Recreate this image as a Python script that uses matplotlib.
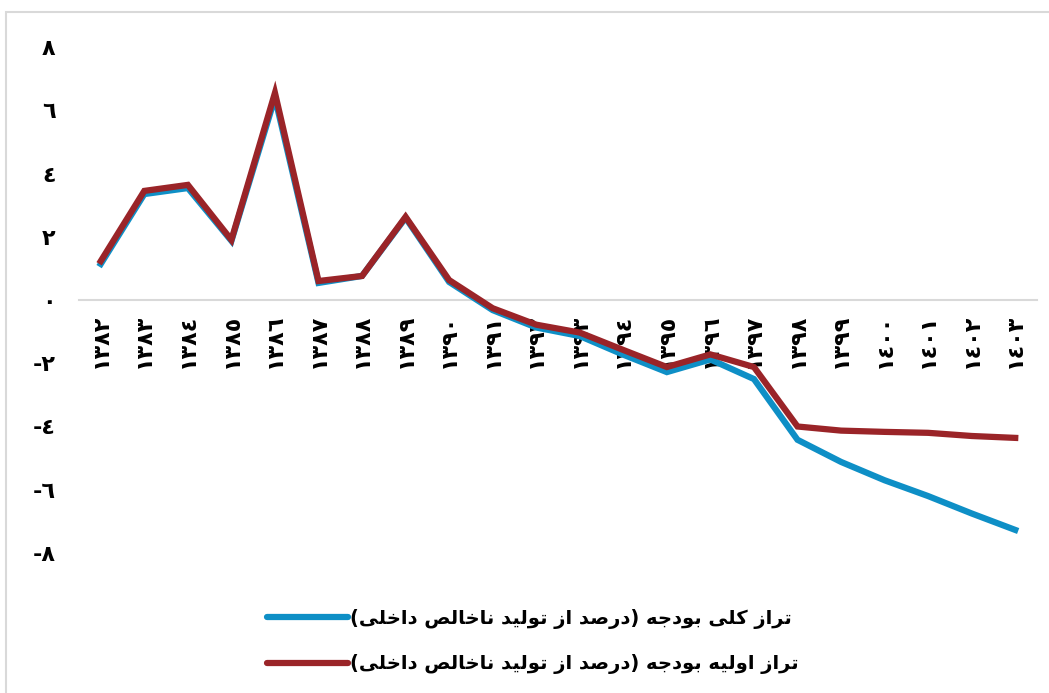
import matplotlib
matplotlib.use("Agg")
import matplotlib.pyplot as plt
from matplotlib.patches import Rectangle

plt.rcParams['font.family'] = ['DejaVu Sans']

# years 1382..1403 and the two budget balance series (% of GDP)
years = list(range(1382, 1404))
overall = [1.14, 3.35, 3.54, 1.87, 6.4, 0.54, 0.76, 2.6, 0.57, -0.32, -0.87, -1.14,
           -1.73, -2.28, -1.88, -2.5, -4.42, -5.12, -5.7, -6.2, -6.75, -7.27]
primary = [1.23, 3.45, 3.64, 1.9, 6.55, 0.6, 0.76, 2.63, 0.63, -0.26, -0.78, -1.03,
           -1.58, -2.12, -1.72, -2.12, -4.0, -4.13, -4.17, -4.2, -4.3, -4.36]
yticks = [8, 6, 4, 2, 0, -2, -4, -6, -8]
labels = ['تراز کلی بودجه (درصد از تولید ناخالص داخلی)',
          'تراز اولیه بودجه (درصد از تولید ناخالص داخلی)']
colors = ['#0E8FC6', '#9A2428']

# arabic presentation forms: isolated, final, initial, medial
forms = {
    'ا': (0xFE8D, 0xFE8E, None, None),
    'ب': (0xFE8F, 0xFE90, 0xFE91, 0xFE92),
    'ت': (0xFE95, 0xFE96, 0xFE97, 0xFE98),
    'ج': (0xFE9D, 0xFE9E, 0xFE9F, 0xFEA0),
    'خ': (0xFEA5, 0xFEA6, 0xFEA7, 0xFEA8),
    'د': (0xFEA9, 0xFEAA, None, None),
    'ر': (0xFEAD, 0xFEAE, None, None),
    'ز': (0xFEAF, 0xFEB0, None, None),
    'ص': (0xFEB9, 0xFEBA, 0xFEBB, 0xFEBC),
    'ک': (0xFED9, 0xFEDA, 0xFEDB, 0xFEDC),
    'ل': (0xFEDD, 0xFEDE, 0xFEDF, 0xFEE0),
    'ن': (0xFEE5, 0xFEE6, 0xFEE7, 0xFEE8),
    'ه': (0xFEE9, 0xFEEA, 0xFEEB, 0xFEEC),
    'و': (0xFEED, 0xFEEE, None, None),
    'ی': (0xFEEF, 0xFEF0, 0xFEF3, 0xFEF4),
}


def shape(text):
    out = []
    for i, ch in enumerate(text):
        if ch not in forms:
            out.append(ch)
            continue
        f = forms[ch]
        prev = text[i - 1] if i > 0 else ''
        nxt = text[i + 1] if i + 1 < len(text) else ''
        jp = prev in forms and forms[prev][2] is not None
        jn = f[2] is not None and nxt in forms
        if jp and jn:
            c = f[3]
        elif jp:
            c = f[1]
        elif jn:
            c = f[2]
        else:
            c = f[0]
        out.append(chr(c))
    # visual order, right to left, with mirrored brackets
    vis = ''.join(out)[::-1]
    return vis.translate(str.maketrans('()', ')('))


def ar_digits(s):
    return str(s).translate(str.maketrans('0123456789', '٠١٢٣٤٥٦٧٨٩'))


fig = plt.figure(figsize=(10.49, 6.93), dpi=100)
ax = fig.add_axes([79 / 1049, 140 / 693, 958 / 1049, 506 / 693])

x = list(range(len(years)))
ax.plot(x, overall, color=colors[0], lw=4.5, solid_joinstyle='miter', label=shape(labels[0]))
ax.plot(x, primary, color=colors[1], lw=4.5, solid_joinstyle='miter', label=shape(labels[1]))

ax.set_xlim(-0.5, len(years) - 0.5)
ax.set_ylim(-8, 8)
for s in ['top', 'right', 'left']:
    ax.spines[s].set_visible(False)
ax.spines['bottom'].set_position(('data', 0))
ax.spines['bottom'].set_color('#d9d9d9')
ax.spines['bottom'].set_linewidth(1.5)
ax.spines['bottom'].set_zorder(0)

ax.set_xticks(x)
ax.set_xticklabels([ar_digits(y) for y in years], rotation=90, fontsize=16, fontweight='bold')
ax.set_yticks(yticks)
ax.set_yticklabels([('-' + ar_digits(-v)) if v < 0 else ar_digits(v) for v in yticks],
                   fontsize=16, fontweight='bold')
ax.tick_params(axis='x', length=0, pad=10)
ax.tick_params(axis='y', length=0, pad=17)

leg = fig.legend(loc='center', bbox_to_anchor=(0.508, 0.074), frameon=False,
                 prop={'size': 14, 'weight': 'bold'}, handlelength=4.2,
                 handletextpad=0.1, labelspacing=1.3)
for h in leg.legend_handles:
    h.set_linewidth(4.5)
    h.set_solid_capstyle('round')

# chart frame
fig.patches.append(Rectangle((6 / 1049, -0.1), 2, 1.1 - 12 / 693, transform=fig.transFigure,
                             fill=False, edgecolor='#d9d9d9', lw=1.5))

fig.savefig('out.png', dpi=100)
